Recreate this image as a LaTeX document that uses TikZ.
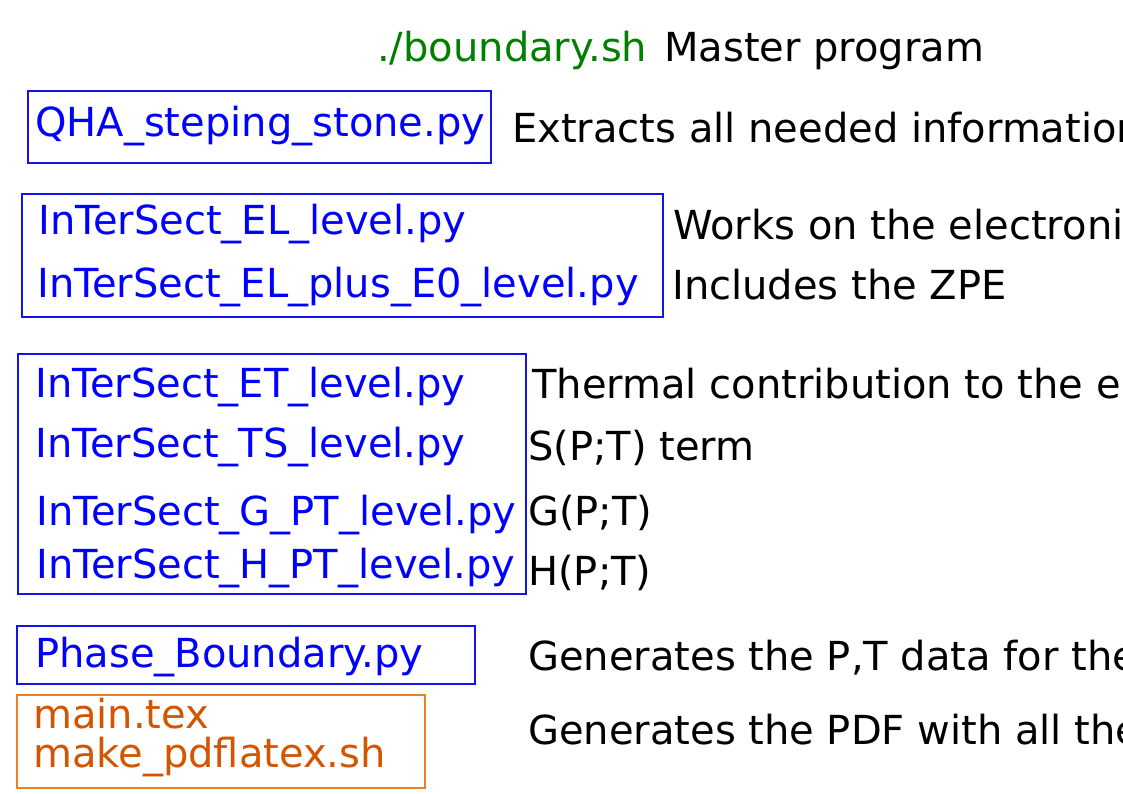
\documentclass[tikz,border=0pt]{standalone}
\usepackage{fontspec}
\setmainfont{DejaVu Sans}
\definecolor{fblue}{RGB}{0,0,255}
\definecolor{fgreen}{RGB}{0,128,0}
\definecolor{forange}{RGB}{212,85,0}
\definecolor{fborder}{RGB}{232,128,36}
\definecolor{bblue}{RGB}{20,20,230}
\tikzset{
  txt/.style={anchor=base west, inner sep=0pt, font=\fontsize{40}{48}\selectfont},
  file/.style={txt, text=fblue},
  desc/.style={txt, text=black},
  bluebox/.style={draw=bblue, line width=1.6pt},
  orangebox/.style={draw=fborder, line width=1.6pt},
}
\begin{document}
\begin{tikzpicture}[x=1pt,y=-1pt]
\useasboundingbox (0,0) rectangle (1123,794);
\clip (0,0) rectangle (1123,794);
% header
\node[txt, text=fgreen] (master) at (377,62) {./boundary.sh};
\node[desc] (masterd) at (664,62) {Master program};
% box 1
\draw[bluebox] (28,91) rectangle (491,163);
\node[file] (qha) at (35,137) {QHA\_steping\_stone.py};
\node[desc] (qhad) at (512,143) {Extracts all needed information};
% box 2
\draw[bluebox] (22,194) rectangle (663,317);
\node[file] (el) at (38,235) {InTerSect\_EL\_level.py};
\node[file] (ele) at (37,297) {InTerSect\_EL\_plus\_E0\_level.py};
\node[desc] (eld) at (673,240) {Works on the electronic};
\node[desc] (eled) at (672,299) {Includes the ZPE};
% box 3
\draw[bluebox] (18,354) rectangle (526,594);
\node[file] (et) at (35,397) {InTerSect\_ET\_level.py};
\node[file] (ts) at (35,457) {InTerSect\_TS\_level.py};
\node[file] (gpt) at (36,525) {InTerSect\_G\_PT\_level.py};
\node[file] (hpt) at (36,578) {InTerSect\_H\_PT\_level.py};
\node[desc] (etd) at (532,398) {Thermal contribution to the energy};
\node[desc] (tsd) at (528,460) {S(P;T) term};
\node[desc] (gptd) at (528,525) {G(P;T)};
\node[desc] (hptd) at (528,585) {H(P;T)};
% box 4
\draw[bluebox] (17,626) rectangle (475,684);
\node[file] (pb) at (35,667) {Phase\_Boundary.py};
\node[desc] (pbd) at (528,670) {Generates the P,T data for the};
% box 5
\draw[orangebox] (17,695) rectangle (425,788);
\node[txt, text=forange] (mt) at (33,728) {main.tex};
\node[txt, text=forange] (mk) at (33,767) {make\_pdflatex.sh};
\node[desc] (mtd) at (528,744) {Generates the PDF with all the};
\end{tikzpicture}
\end{document}
